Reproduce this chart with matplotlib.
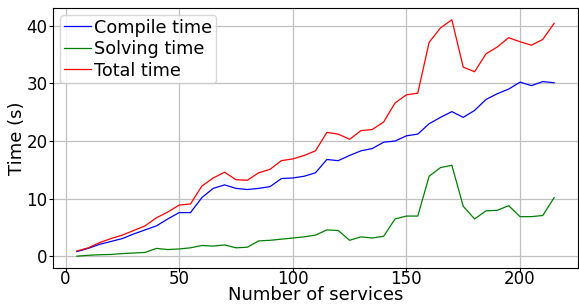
import matplotlib
matplotlib.use("Agg")
import matplotlib.pyplot as plt

services = list(range(5, 220, 5))
compile_time = [0.85, 1.4, 2.1, 2.6, 3.1, 3.9, 4.6, 5.3, 6.5, 7.6, 7.6, 10.2, 11.8, 12.4, 11.8, 11.6,
                11.8, 12.1, 13.5, 13.6, 13.9, 14.5, 16.8, 16.6, 17.5, 18.3, 18.7, 19.8, 20.0, 20.9,
                21.2, 23.0, 24.1, 25.1, 24.1, 25.3, 27.2, 28.2, 29.0, 30.2, 29.6, 30.3, 30.1]
solving_time = [0.05, 0.2, 0.3, 0.35, 0.5, 0.6, 0.7, 1.4, 1.2, 1.3, 1.5, 1.9, 1.8, 2.0, 1.5, 1.6,
                2.7, 2.8, 3.0, 3.2, 3.4, 3.7, 4.6, 4.5, 2.8, 3.4, 3.2, 3.5, 6.5, 7.0,
                7.0, 13.9, 15.4, 15.8, 8.7, 6.5, 7.9, 8.0, 8.8, 6.9, 6.9, 7.1, 10.2]
total_time = [0.95, 1.5, 2.4, 3.1, 3.7, 4.5, 5.3, 6.7, 7.7, 8.9, 9.1, 12.2, 13.6, 14.6, 13.3, 13.2,
              14.5, 15.1, 16.6, 16.9, 17.5, 18.3, 21.5, 21.2, 20.3, 21.8, 22.0, 23.3, 26.6, 28.0,
              28.3, 37.1, 39.6, 41.0, 32.8, 32.0, 35.1, 36.3, 37.9, 37.2, 36.6, 37.6, 40.4]

fig = plt.figure(figsize=(5.79, 3.07), dpi=100)
ax = fig.add_axes([53/579, (307-268)/307, (578-53)/579, (268-8)/307])
ax.plot(services, compile_time, color="blue", lw=0.9, label="Compile time")
ax.plot(services, solving_time, color="green", lw=0.9, label="Solving time")
ax.plot(services, total_time, color="red", lw=0.9, label="Total time")
ax.grid(True, color="#c0c0c0", lw=0.9)
ax.set_axisbelow(True)
ax.set_xticks([0, 50, 100, 150, 200])
ax.set_yticks([0, 10, 20, 30, 40])
ax.tick_params(labelsize=12, length=3)
ax.tick_params(axis="x", pad=-1.5)
ax.tick_params(axis="y", pad=1)
ax.set_xlabel("Number of services", fontsize=13, labelpad=-1.2)
ax.set_ylabel("Time (s)", fontsize=13, labelpad=0)
ax.legend(loc="upper left", fontsize=12.7, handlelength=1.55, borderaxespad=0.4,
          labelspacing=0.2, handletextpad=0.2, borderpad=0.2)
fig.savefig("out.png", dpi=100)
